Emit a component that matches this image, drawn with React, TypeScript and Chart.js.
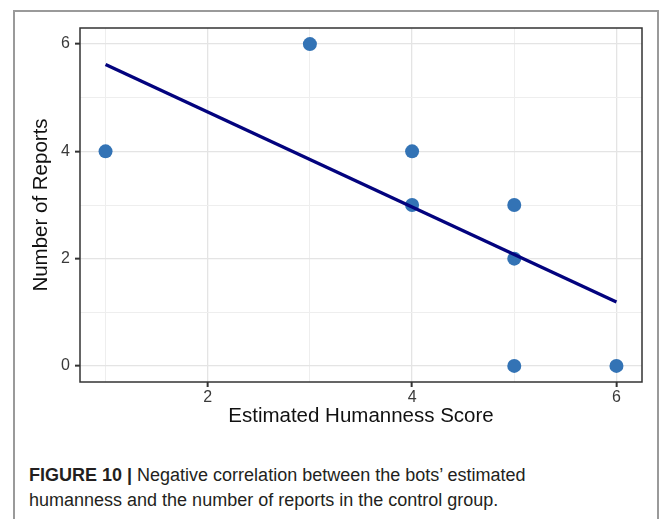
import React, { useEffect, useRef } from "react";
import { Chart, registerables } from "chart.js";

Chart.register(...registerables);

// ---- data ----
const humannessScores = [1, 3, 4, 4, 5, 5, 5, 6];
const reportCounts = [4, 6, 4, 3, 3, 2, 0, 0];
const fitLineX = [1, 6];
const fitLineY = [5.62, 1.19];
const xTickValues = [1, 2, 3, 4, 5, 6];
const yTickValues = [0, 1, 2, 3, 4, 5, 6];
const xLabelledTicks = [2, 4, 6];
const yLabelledTicks = [0, 2, 4, 6];
const xRange = [0.75, 6.25];
const yRange = [-0.3, 6.3];
const xTitle = "Estimated Humanness Score";
const yTitle = "Number of Reports";

const FONT = "'Liberation Sans', Arial, Helvetica, sans-serif";

const panelBorder = {
  id: "panelBorder",
  afterDatasetsDraw(chart: any) {
    const { ctx, chartArea } = chart;
    ctx.save();
    ctx.strokeStyle = "#333333";
    ctx.lineWidth = 1.5;
    ctx.strokeRect(
      chartArea.left,
      chartArea.top,
      chartArea.right - chartArea.left,
      chartArea.bottom - chartArea.top
    );
    ctx.restore();
  },
};

export default function App() {
  const canvasRef = useRef<HTMLCanvasElement | null>(null);

  useEffect(() => {
    if (!canvasRef.current) return;
    Chart.defaults.font.family = FONT;

    const isMajorX = (v: number) => xLabelledTicks.includes(v);
    const isMajorY = (v: number) => yLabelledTicks.includes(v);
    const tickFont = { family: FONT, size: 16 };

    const chart = new Chart(canvasRef.current, {
      type: "scatter",
      data: {
        datasets: [
          {
            type: "line",
            data: fitLineX.map((x, i) => ({ x, y: fitLineY[i] })),
            borderColor: "#03037e",
            borderWidth: 3.4,
            pointRadius: 0,
            fill: false,
            order: 0,
          } as any,
          {
            data: humannessScores.map((x, i) => ({ x, y: reportCounts[i] })),
            backgroundColor: "#3373b5",
            borderColor: "#3373b5",
            pointRadius: 7,
            pointBorderWidth: 0,
            order: 1,
          },
        ],
      },
      options: {
        responsive: false,
        animation: false,
        layout: { padding: { top: 28, right: 21, left: 0, bottom: 0 } },
        plugins: {
          legend: { display: false },
          tooltip: { enabled: false },
        },
        scales: {
          x: {
            type: "linear",
            min: xRange[0],
            max: xRange[1],
            afterBuildTicks: (scale: any) => {
              scale.ticks = xTickValues.map((v) => ({ value: v }));
            },
            afterFit: (scale: any) => {
              scale.height = 58;
            },
            border: { display: false },
            grid: {
              color: (c: any) => (isMajorX(c.tick?.value) ? "#e4e4e4" : "#eeeeee"),
              lineWidth: (c: any) => (isMajorX(c.tick?.value) ? 1.3 : 1),
              tickColor: (c: any) =>
                isMajorX(c.tick?.value) ? "#333333" : "rgba(0,0,0,0)",
              tickWidth: 2,
              tickLength: 5,
            },
            ticks: {
              padding: 1,
              color: "#3a3a3a",
              font: tickFont,
              maxRotation: 0,
              autoSkip: false,
              callback: (v: any) => (isMajorX(Number(v)) ? String(v) : ""),
            },
            title: {
              display: true,
              text: xTitle,
              color: "#111111",
              font: { family: FONT, size: 20.5 },
              padding: { top: 0, bottom: 11 },
            },
          },
          y: {
            type: "linear",
            min: yRange[0],
            max: yRange[1],
            afterBuildTicks: (scale: any) => {
              scale.ticks = yTickValues.map((v) => ({ value: v }));
            },
            afterFit: (scale: any) => {
              scale.width = 80;
            },
            border: { display: false },
            grid: {
              color: (c: any) => (isMajorY(c.tick?.value) ? "#e4e4e4" : "#eeeeee"),
              lineWidth: (c: any) => (isMajorY(c.tick?.value) ? 1.3 : 1),
              tickColor: (c: any) =>
                isMajorY(c.tick?.value) ? "#333333" : "rgba(0,0,0,0)",
              tickWidth: 2,
              tickLength: 5,
            },
            ticks: {
              padding: 5,
              color: "#3a3a3a",
              font: tickFont,
              autoSkip: false,
              callback: (v: any) => (isMajorY(Number(v)) ? String(v) : ""),
            },
            title: {
              display: true,
              text: yTitle,
              color: "#111111",
              font: { family: FONT, size: 20.5 },
              padding: { top: 29, bottom: 0 },
            },
          },
        },
      },
      plugins: [panelBorder],
    } as any);

    return () => chart.destroy();
  }, []);

  return (
    <div
      style={{
        position: "fixed",
        left: 0,
        top: 0,
        width: 663,
        height: 519,
        overflow: "hidden",
        background: "#ffffff",
      }}
    >
      <div
        style={{
          position: "absolute",
          left: 13,
          top: 10,
          width: 646,
          height: 540,
          border: "2px solid #9a9a9a",
          boxSizing: "border-box",
        }}
      />
      <canvas
        ref={canvasRef}
        width={663}
        height={440}
        style={{ position: "absolute", left: 0, top: 0, width: 663, height: 440 }}
      />
      <div
        style={{
          position: "absolute",
          left: 29,
          top: 463,
          fontFamily: FONT,
          fontSize: 18,
          lineHeight: "25px",
          color: "#231f20",
          whiteSpace: "nowrap",
        }}
      >
        <span style={{ fontWeight: "bold" }}>FIGURE 10 |</span> Negative correlation
        between the bots’ estimated
        <br />
        humanness and the number of reports in the control group.
      </div>
    </div>
  );
}
